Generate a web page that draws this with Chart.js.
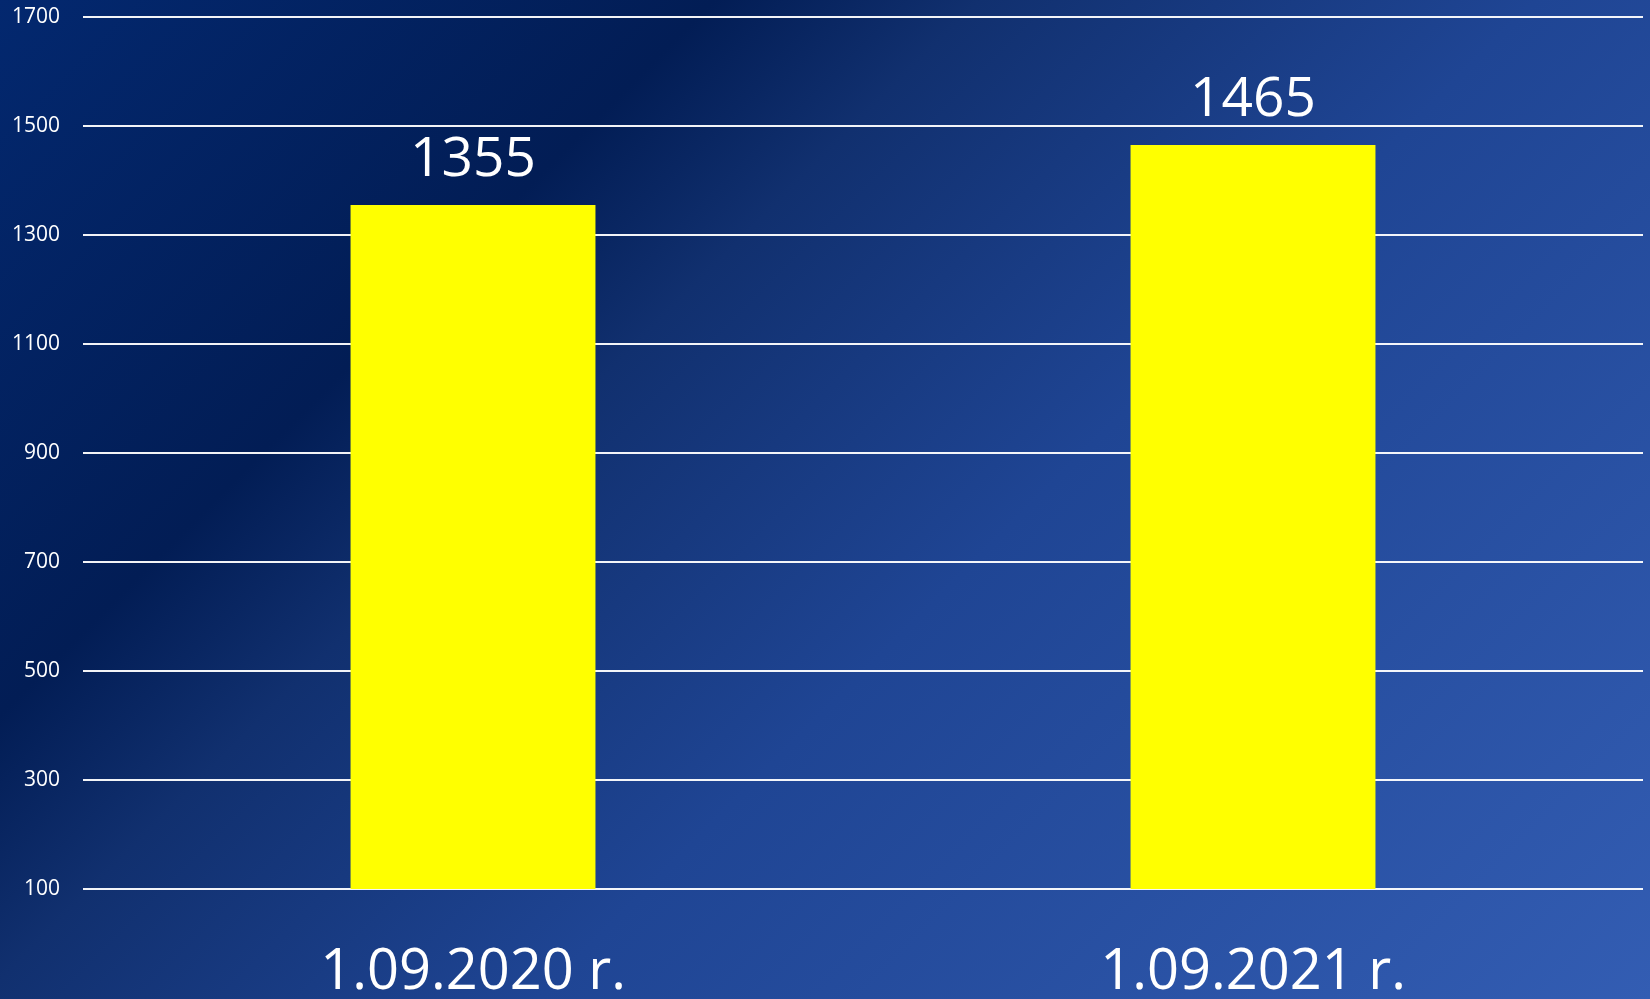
<!DOCTYPE html>
<html>
<head>
<meta charset="utf-8">
<script src="https://cdn.jsdelivr.net/npm/chart.js@4"></script>
<style>
  html, body {
    margin: 0;
    padding: 0;
    width: 1650px;
    height: 999px;
    overflow: hidden;
  }
  body {
    background: linear-gradient(135deg, #03286f 0%, #021d55 27%, #11306f 37%, #1f4594 58%, #335db3 100%);
  }
  #wrap {
    position: relative;
    width: 1650px;
    height: 999px;
  }
</style>
</head>
<body>
<div id="wrap"><canvas id="barChart"></canvas></div>
<script>
let dates = ["1.09.2020 r.", "1.09.2021 r."];
let pupils = [1355, 1465];
let yTicks = [100, 300, 500, 700, 900, 1100, 1300, 1500, 1700];

// value labels above the bars
let valueLabels = {
  id: "valueLabels",
  afterDatasetsDraw(chart) {
    let ctx = chart.ctx;
    let meta = chart.getDatasetMeta(0);
    ctx.save();
    ctx.fillStyle = "#ffffff";
    ctx.font = "55px 'Open Sans'";
    ctx.textAlign = "center";
    ctx.textBaseline = "alphabetic";
    meta.data.forEach((bar, i) => {
      ctx.fillText(String(pupils[i]), bar.x, bar.y - 29);
    });
    ctx.restore();
  },
};

let barIs = document.getElementById("barChart");
new Chart(barIs, {
  type: "bar",
  data: {
    labels: dates,
    datasets: [
      {
        data: pupils,
        backgroundColor: "#ffff00",
        borderWidth: 0,
        categoryPercentage: 1,
        barPercentage: 0.314,
      },
    ],
  },
  options: {
    responsive: true,
    maintainAspectRatio: false,
    animation: false,
    layout: {
      padding: { top: 0, right: 7, left: 0, bottom: 0 },
    },
    plugins: {
      legend: { display: false },
      tooltip: { enabled: false },
    },
    scales: {
      x: {
        grid: { display: false, drawTicks: false },
        border: { display: false },
        ticks: {
          color: "#ffffff",
          padding: 50,
          font: { family: "'Open Sans'", size: 56 },
        },
        afterFit(scale) {
          scale.height = 110;
          scale.paddingTop = 0;
          scale.paddingBottom = 0;
        },
      },
      y: {
        min: 100,
        max: 1700,
        afterBuildTicks(scale) {
          scale.ticks = yTicks.map((v) => ({ value: v }));
        },
        grid: {
          color: "rgba(255,255,255,0.95)",
          lineWidth: 2,
          drawTicks: false,
        },
        border: { display: false },
        ticks: {
          color: "#ffffff",
          padding: 23,
          font: { family: "'Open Sans'", size: 21 },
          callback: (v) => String(v),
        },
        afterFit(scale) {
          scale.width = 83;
          scale.paddingTop = 17;
          scale.paddingBottom = 0;
        },
      },
    },
  },
  plugins: [valueLabels],
});
</script>
</body>
</html>
